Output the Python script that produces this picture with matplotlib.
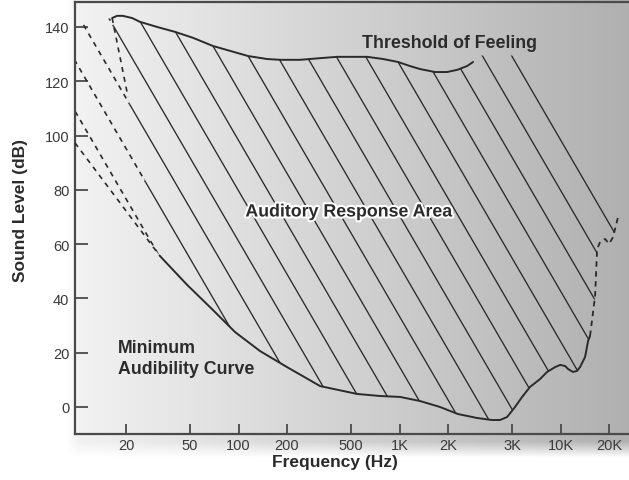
import numpy as np
import matplotlib
matplotlib.use("Agg")
import matplotlib.pyplot as plt
from matplotlib.path import Path
from matplotlib.patches import PathPatch
from matplotlib.ticker import NullLocator
import matplotlib.patheffects as pe

plt.rcParams['font.family'] = ['Liberation Sans', 'DejaVu Sans']

# ---------------- data ----------------
tick_freqs = [20, 50, 100, 200, 500, 1000, 2000, 5000, 10000, 20000]
tick_labels = ["20", "50", "100", "200", "500", "1K", "2K", "3K", "10K", "20K"]
ytick_vals = [0, 20, 40, 60, 80, 100, 120, 140]

# Threshold of feeling (upper boundary)
feel_hz = [16.4, 17.6, 19.1, 21.8, 24.4, 31.2, 40.3, 52.1, 69.3, 88.5, 114.5, 150, 181, 241,
           335, 409, 629, 789, 979, 1161, 1340, 1660, 1972, 2277, 2625, 2860]
feel_db = [143.3, 144.1, 144.1, 143.3, 141.9, 140.0, 138.2, 136.0, 133.0, 131.2, 129.3, 128.2,
           127.9, 127.9, 128.6, 129.0, 129.0, 128.2, 127.1, 125.6, 124.5, 123.4, 123.4, 124.2,
           125.6, 127.1]

# Minimum audibility curve (lower boundary)
aud_hz = [32.5, 47.9, 69.4, 95.1, 136, 200, 321, 545, 757, 1007, 1340, 1783, 2307, 3027, 3750,
          4207, 4652, 5212, 5770, 6460, 7460, 8240, 9250, 9930, 10670, 11120, 11940, 12650,
          13210, 14190, 14820, 15240]
aud_db = [55.6, 45.0, 35.7, 27.6, 20.6, 14.7, 7.7, 4.8, 4.05, 3.7, 2.2, 0.0, -2.6, -4.05, -4.8,
          -4.8, -3.7, 0.0, 3.7, 7.4, 10.3, 12.9, 14.7, 15.5, 15.1, 14.0, 12.9, 13.3,
          14.7, 18.4, 24.3, 26.2]

# dashed high-frequency extrapolation
high_hz = [15240, 16380, 16860, 17600, 18900, 20000, 21180, 22740]
high_db = [26.2, 40.9, 58.2, 60.8, 61.9, 60.1, 62.6, 70.0]

# dashed low-frequency extrapolation of the minimum audibility curve
lowext_hz = [9.64, 32.5]
lowext_db = [97.3, 55.6]

cap_db = 129.5          # upper limit of hatching beyond the solid threshold curve
right_solid_hz = 22110  # end of solid hatching on the right
right_dash_hz = [23080, 24790]

# ---------------- figure ----------------
W, H = 629, 481
fig = plt.figure(figsize=(W / 100, H / 100), dpi=100)
fig.patch.set_facecolor('white')

# background gradient
bg = fig.add_axes([0, 0, 1, 1], zorder=0)
bg.set_xlim(0, W)
bg.set_ylim(H, 0)
bg.axis('off')
xs = np.arange(66, W + 1)
ys = np.arange(0, 458)
X, Y = np.meshgrid(xs, ys)
val = 0.95 - 0.26 * np.clip((X - 75) / 554.0, 0, 1)
alpha = np.clip((458 - Y) / 16.0, 0, 1) * np.clip((X - 66) / 12.0, 0, 1)
rgba = np.dstack([val, val, val, alpha])
bg.imshow(rgba, extent=(66, W, 458, 0), aspect='auto', interpolation='bilinear')

L, T, B = 75, 3, 435
ax = fig.add_axes([L / W, (H - B) / H, (W - L) / W, (B - T) / H], zorder=1)
ax.patch.set_alpha(0)
ax.set_xscale('log')
ax.set_xlim(9.64, 26600)
ax.set_ylim(-9.95, 149.2)

for s in ['left', 'bottom', 'top']:
    ax.spines[s].set_color('#4a4a4a')
    ax.spines[s].set_linewidth(1.6)
ax.spines['right'].set_visible(False)

ax.set_xticks(tick_freqs)
ax.set_xticklabels(tick_labels)
ax.xaxis.set_minor_locator(NullLocator())
ax.set_yticks(ytick_vals)
ax.tick_params(axis='x', direction='in', length=7, width=1.3, pad=3, labelsize=10.5,
               color='#4a4a4a', labelcolor='#3a3a3a')
ax.tick_params(axis='y', direction='in', length=9.5, width=1.3, pad=4, labelsize=10.5,
               color='#4a4a4a', labelcolor='#3a3a3a')

line_col = '#2a2a2a'

# ---------------- clip regions ----------------
solid_verts = list(zip(feel_hz, feel_db))
solid_verts += [(feel_hz[-1] * 1.03, cap_db), (right_solid_hz, cap_db), (right_solid_hz, 68.0)]
solid_verts += list(zip(high_hz[:-1], high_db[:-1]))[::-1]
solid_verts += list(zip(aud_hz, aud_db))[::-1]
solid_verts.append(solid_verts[0])
solid_patch = PathPatch(Path(solid_verts), transform=ax.transData, fc='none', ec='none')
ax.add_patch(solid_patch)

top_left_db = 141.1
dash_verts = [(lowext_hz[0], top_left_db), (feel_hz[0], feel_db[0]), (aud_hz[0], aud_db[0]),
              (lowext_hz[0], lowext_db[0]), (lowext_hz[0], top_left_db)]
dash_patch = PathPatch(Path(dash_verts), transform=ax.transData, fc='none', ec='none')
ax.add_patch(dash_patch)

rd_verts = [(right_dash_hz[0], cap_db), (right_dash_hz[1], cap_db), (right_dash_hz[1], 72.0),
            (right_dash_hz[0], 70.5), (right_dash_hz[0], cap_db)]
rd_patch = PathPatch(Path(rd_verts), transform=ax.transData, fc='none', ec='none')
ax.add_patch(rd_patch)

# ---------------- hatch lines ----------------
ax_w, ax_h = W - L, B - T
slope = 1.72
spacing = 29.3
for k in range(-4, 26):
    xr = 594 - spacing * k
    y0, y1 = -30, 470
    x0 = xr - (400 - y0) / slope
    x1 = xr + (y1 - 400) / slope
    fx = [(x0 - L) / ax_w, (x1 - L) / ax_w]
    fy = [(B - y0) / ax_h, (B - y1) / ax_h]
    ln, = ax.plot(fx, fy, transform=ax.transAxes, color=line_col, lw=0.95, zorder=2)
    ln.set_clip_path(solid_patch)
    ln2, = ax.plot(fx, fy, transform=ax.transAxes, color=line_col, lw=1.2,
                   linestyle=(0, (3, 3)), zorder=2)
    ln2.set_clip_path(dash_patch)
    ln3, = ax.plot(fx, fy, transform=ax.transAxes, color=line_col, lw=1.0, zorder=2)
    ln3.set_clip_path(rd_patch)

# ---------------- boundary curves ----------------
ax.plot(feel_hz, feel_db, color=line_col, lw=1.4, zorder=3, solid_capstyle='round',
        solid_joinstyle='round')
ax.plot(aud_hz, aud_db, color=line_col, lw=1.4, zorder=3, solid_capstyle='round',
        solid_joinstyle='round')
ax.plot(high_hz, high_db, color=line_col, lw=1.3, linestyle=(0, (3, 2.5)), zorder=3)
ax.plot(lowext_hz, lowext_db, color=line_col, lw=1.2, linestyle=(0, (3, 3)), zorder=3)

# dashed upper part of the left boundary
frac = 0.33
lb_hz = [feel_hz[0], 10 ** (np.log10(feel_hz[0]) + frac * (np.log10(aud_hz[0]) - np.log10(feel_hz[0])))]
lb_db = [feel_db[0], feel_db[0] + frac * (aud_db[0] - feel_db[0])]
ax.plot(lb_hz, lb_db, color=line_col, lw=1.2, linestyle=(0, (3, 3)), zorder=3)

# ---------------- texts ----------------
txt_col = '#2b2b2b'
fig.text(335 / W, 1 - 463 / H, 'Frequency (Hz)', ha='center', va='center',
         fontsize=12.5, fontweight='bold', color=txt_col)
fig.text(21 / W, 1 - 211 / H, 'Sound Level (dB)', ha='center', va='center', rotation=90,
         fontsize=12.5, fontweight='bold', color=txt_col)
fig.text(450 / W, 1 - 43 / H, 'Threshold of Feeling', ha='center', va='center',
         fontsize=12.8, fontweight='bold', color=txt_col, zorder=5)
fig.text(349 / W, 1 - 213 / H, 'Auditory Response Area', ha='center', va='center',
         fontsize=12.8, fontweight='bold', color=txt_col, zorder=5,
         path_effects=[pe.withStroke(linewidth=3, foreground='white')])
fig.text(118 / W, 1 - 359 / H, 'Minimum\nAudibility Curve', ha='left', va='center',
         fontsize=12.8, fontweight='bold', color=txt_col, linespacing=1.25, zorder=5)

fig.savefig('out.png', dpi=100)
